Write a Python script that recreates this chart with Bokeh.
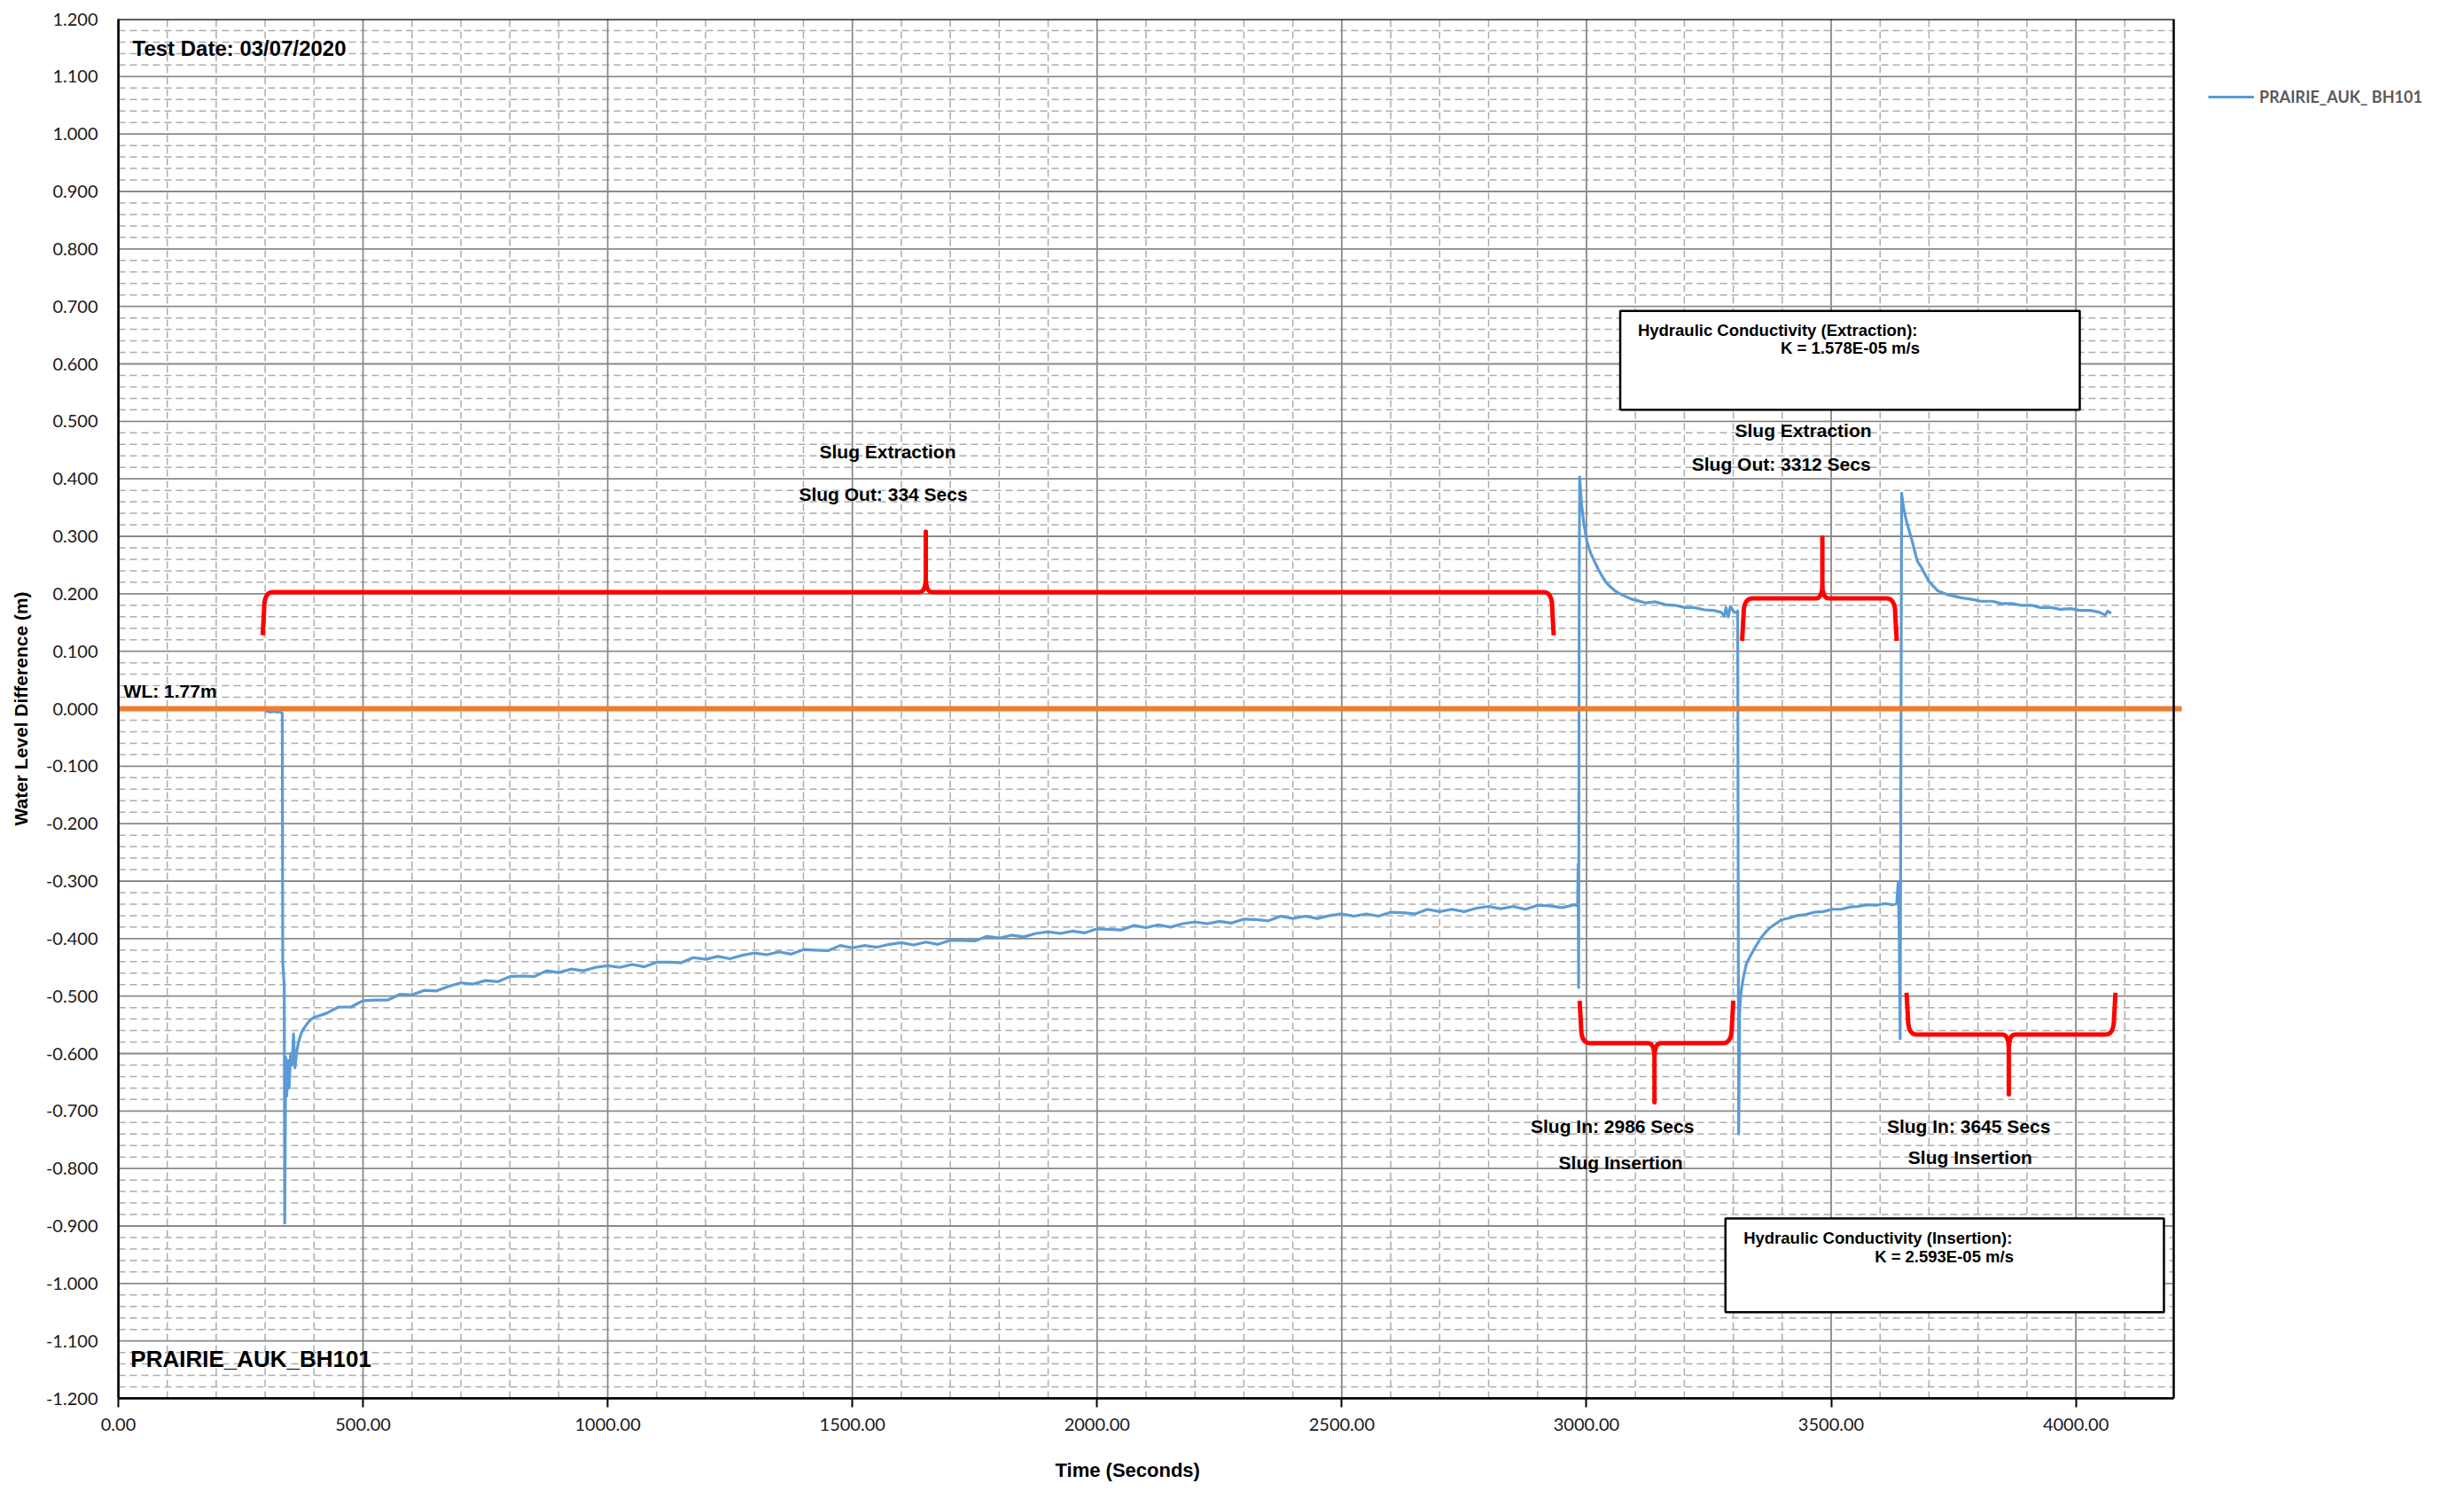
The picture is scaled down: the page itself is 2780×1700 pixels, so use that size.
import numpy as np
from bokeh.plotting import figure
from bokeh.models import (Range1d, FixedTicker, NumeralTickFormatter,
                          Label, Legend, LegendItem, Title)
from bokeh.embed import file_html
from bokeh.resources import INLINE

# ---------------- data ----------------
series_name = "PRAIRIE_AUK_ BH101"

# phase 1: static level, slug out at ~334 s
t1 = [300, 305, 310, 315, 320, 325, 330, 335, 336, 339, 340, 342, 344, 347, 349, 352,
      355, 358, 361, 364, 367, 371, 375, 380, 386, 393]
h1 = [-0.005, -0.004, -0.006, -0.005, -0.005, -0.006, -0.005, -0.008, -0.441, -0.482,
      -0.895, -0.606, -0.674, -0.612, -0.660, -0.600, -0.620, -0.566, -0.625, -0.600,
      -0.585, -0.572, -0.562, -0.555, -0.548, -0.541]

# phase 2: long recovery
t2 = [400, 425, 450, 475, 500, 525, 550, 575, 600, 625, 650, 675, 700, 725, 750, 775,
      800, 825, 850, 875, 900, 925, 950, 975, 1000, 1025, 1050, 1075, 1100, 1125, 1150,
      1175, 1200, 1225, 1250, 1275, 1300, 1325, 1350, 1375, 1400, 1425, 1450, 1475, 1500,
      1525, 1550, 1575, 1600, 1625, 1650, 1675, 1700, 1725, 1750, 1775, 1800, 1825, 1850,
      1875, 1900, 1925, 1950, 1975, 2000, 2025, 2050, 2075, 2100, 2125, 2150, 2175, 2200,
      2225, 2250, 2275, 2300, 2325, 2350, 2375, 2400, 2425, 2450, 2475, 2500, 2525, 2550,
      2575, 2600, 2625, 2650, 2675, 2700, 2725, 2750, 2775, 2800, 2825, 2850, 2875, 2900,
      2925, 2950, 2975]
h2 = [-0.537, -0.530, -0.519, -0.519, -0.508, -0.507, -0.507, -0.497, -0.498, -0.490,
      -0.491, -0.483, -0.477, -0.479, -0.473, -0.475, -0.466, -0.465, -0.466, -0.456,
      -0.459, -0.453, -0.456, -0.450, -0.447, -0.450, -0.445, -0.449, -0.441, -0.441,
      -0.442, -0.433, -0.436, -0.431, -0.435, -0.429, -0.425, -0.428, -0.423, -0.427,
      -0.419, -0.420, -0.421, -0.412, -0.416, -0.412, -0.415, -0.410, -0.407, -0.411,
      -0.406, -0.410, -0.403, -0.403, -0.404, -0.396, -0.399, -0.394, -0.397, -0.391,
      -0.388, -0.391, -0.387, -0.390, -0.383, -0.384, -0.385, -0.377, -0.381, -0.376,
      -0.380, -0.374, -0.371, -0.374, -0.370, -0.373, -0.366, -0.367, -0.369, -0.361,
      -0.365, -0.361, -0.365, -0.360, -0.357, -0.361, -0.357, -0.361, -0.354, -0.355,
      -0.357, -0.349, -0.353, -0.349, -0.353, -0.347, -0.344, -0.348, -0.344, -0.349,
      -0.342, -0.343, -0.346, -0.341]

# phase 3: slug in at ~2986 s and recovery
t3 = [2982, 2983, 2984, 2985, 2986, 2990, 2995, 3001, 3008, 3016, 3024, 3031, 3040, 3049,
      3060, 3073, 3091, 3105, 3121, 3140, 3161, 3180, 3202, 3220, 3242, 3260, 3275, 3282,
      3285, 3290, 3294, 3300, 3306, 3309]
h3 = [-0.343, -0.270, -0.485, 0.140, 0.403, 0.355, 0.320, 0.291, 0.272, 0.257, 0.243,
      0.232, 0.220, 0.212, 0.204, 0.198, 0.191, 0.188, 0.184, 0.186, 0.181, 0.180, 0.176,
      0.176, 0.172, 0.171, 0.168, 0.161, 0.176, 0.160, 0.178, 0.170, 0.167, 0.170]

# phase 4: slug out at ~3312 s and recovery
t4 = [3311, 3313, 3315, 3318, 3322, 3327, 3335, 3342, 3350, 3357, 3366, 3375, 3387, 3399,
      3415, 3430, 3448, 3466, 3484, 3502, 3520, 3538, 3556, 3574, 3592, 3610, 3625, 3634]
h4 = [-0.740, -0.530, -0.500, -0.480, -0.462, -0.443, -0.430, -0.419, -0.408, -0.398,
      -0.389, -0.381, -0.374, -0.367, -0.364, -0.360, -0.358, -0.354, -0.353, -0.349,
      -0.349, -0.345, -0.344, -0.341, -0.342, -0.339, -0.341, -0.339]

# phase 5: slug in at ~3645 s and recovery
t5 = [3637, 3639, 3641, 3644, 3648, 3652, 3656, 3661, 3666, 3676, 3685, 3700, 3718, 3740,
      3766, 3790, 3806, 3830, 3847, 3870, 3887, 3910, 3927, 3950, 3968, 3990, 4008, 4030,
      4048, 4060, 4065, 4072]
h5 = [-0.301, -0.388, -0.574, 0.375, 0.350, 0.333, 0.320, 0.305, 0.290, 0.257, 0.245,
      0.221, 0.205, 0.198, 0.193, 0.190, 0.187, 0.187, 0.183, 0.183, 0.180, 0.180, 0.176,
      0.176, 0.173, 0.174, 0.171, 0.171, 0.168, 0.163, 0.170, 0.166]

time_s = t1 + t2 + t3 + t4 + t5
level_m = h1 + h2 + h3 + h4 + h5

static_level = 0.0          # WL: 1.77 m reference line

# axes
x_min, x_max = 0, 4200
y_min, y_max = -1.2, 1.2
x_major_ticks = [0, 500, 1000, 1500, 2000, 2500, 3000, 3500, 4000]
y_major_ticks = [-1.2, -1.1, -1.0, -0.9, -0.8, -0.7, -0.6, -0.5, -0.4, -0.3, -0.2, -0.1,
                 0.0, 0.1, 0.2, 0.3, 0.4, 0.5, 0.6, 0.7, 0.8, 0.9, 1.0, 1.1, 1.2]

# braces (left end, right end, tip x, end y, bar y, tip y)
brace_left = [298, 3321, 2989, 3657]
brace_right = [2930, 3631, 3297, 4078]
brace_tip_x = [1650, 3482, 3139, 3863]
brace_end_y = [0.128, 0.118, -0.508, -0.494]
brace_bar_y = [0.203, 0.192, -0.582, -0.567]
brace_tip_y = [0.308, 0.298, -0.685, -0.671]

# annotation texts
slug_text = ["Slug Extraction", "Slug Out: 334 Secs", "Slug Extraction",
             "Slug Out: 3312 Secs", "Slug In: 2986 Secs", "Slug Insertion",
             "Slug In: 3645 Secs", "Slug Insertion"]
slug_x = [1572, 1563, 3443, 3398, 3053, 3070, 3781, 3784]
slug_y = [0.447, 0.373, 0.485, 0.425, -0.726, -0.790, -0.726, -0.780]

box_left = [3069, 3284]
box_right = [4008, 4180]
box_top = [0.692, -0.887]
box_bottom = [0.520, -1.050]
box_title = ["Hydraulic Conductivity (Extraction):", "Hydraulic Conductivity (Insertion):"]
box_title_x = [3105, 3321]
box_title_y = [0.659, -0.921]
box_k = ["K = 1.578E-05 m/s", "K = 2.593E-05 m/s"]
box_k_x = [3539, 3731]
box_k_y = [0.628, -0.953]

# ---------------- layout (pixels) ----------------
W, H = 2780, 1700
FRAME_L, FRAME_T, FRAME_B = 133, 21, 123
PLOT_R = 2452                       # right edge of the plotted area
# the frame extends to the page edge so the legend (outside the box) is not clipped
x_view_end = x_max * (W - FRAME_L) / (PLOT_R - FRAME_L)

p = figure(width=W, height=H, output_backend="svg", toolbar_location=None,
           x_range=Range1d(x_min, x_view_end), y_range=Range1d(y_min, y_max),
           min_border_left=FRAME_L, min_border_right=0, min_border_top=FRAME_T,
           min_border_bottom=FRAME_B, background_fill_color="white",
           border_fill_color="white")
p.outline_line_color = None
p.xgrid.visible = False
p.ygrid.visible = False

x_minor = [v for v in range(x_min, x_max + 1, 100) if v % 500 != 0]
y_minor = [round(y_min + 0.02 * i, 2) for i in range(121) if i % 5 != 0]
p.xaxis.ticker = FixedTicker(ticks=x_major_ticks, minor_ticks=x_minor)
p.yaxis.ticker = FixedTicker(ticks=y_major_ticks, minor_ticks=y_minor)
p.xaxis.bounds = (x_min, x_max)
p.xaxis.formatter = NumeralTickFormatter(format="0.00")
p.yaxis.formatter = NumeralTickFormatter(format="0.000")

for ax in (p.xaxis, p.yaxis):
    ax.axis_line_color = "black"
    ax.axis_line_width = 2.5
    ax.minor_tick_in = 0
    ax.minor_tick_out = 0
    ax.major_tick_in = 0
    ax.major_label_text_font = "Lato"
    ax.major_label_text_font_size = "20px"
    ax.major_label_text_color = "#1a1a1a"
    ax.axis_label_text_font = "Liberation Sans"
    ax.axis_label_text_font_style = "bold"
    ax.axis_label_text_color = "black"

p.xaxis.major_tick_out = 10
p.xaxis.major_tick_line_color = "black"
p.xaxis.major_tick_line_width = 2
p.xaxis.major_label_standoff = 12

p.yaxis.major_tick_out = 0
p.yaxis.major_label_standoff = 23
p.yaxis.axis_label = "Water Level Difference (m)"
p.yaxis.axis_label_text_font_size = "21px"
p.yaxis.axis_label_standoff = 14

# x-axis title, placed under the plotted box (as in the original)
p.add_layout(Title(text="Time (Seconds)", align="left", offset=1057,
                   text_font="Liberation Sans", text_font_style="bold",
                   text_font_size="22px", text_color="black", standoff=55), "below")

# grid lines (limited to the plotted box)
GRID_MAJOR = "#8a8a8a"
GRID_MINOR = "#acacac"
p.segment(x0=x_minor, x1=x_minor, y0=[y_min] * len(x_minor), y1=[y_max] * len(x_minor),
          line_color=GRID_MINOR, line_width=1.5, line_dash="8 5")
p.segment(x0=[x_min] * len(y_minor), x1=[x_max] * len(y_minor), y0=y_minor, y1=y_minor,
          line_color=GRID_MINOR, line_width=1.5, line_dash="8 5")
xm_inner = [v for v in x_major_ticks if v != x_min]
p.segment(x0=xm_inner, x1=xm_inner, y0=[y_min] * len(xm_inner), y1=[y_max] * len(xm_inner),
          line_color=GRID_MAJOR, line_width=1.8)
ym_inner = [v for v in y_major_ticks if v not in (y_min, y_max)]
p.segment(x0=[x_min] * len(ym_inner), x1=[x_max] * len(ym_inner), y0=ym_inner, y1=ym_inner,
          line_color=GRID_MAJOR, line_width=1.8)

# hydraulic conductivity boxes
p.quad(left=box_left, right=box_right, top=box_top, bottom=box_bottom,
       fill_color="white", line_color="black", line_width=2.5)


# braces
def qbez(p0, c, p1, n=10):
    t = np.linspace(0, 1, n)
    x = (1 - t) ** 2 * p0[0] + 2 * (1 - t) * t * c[0] + t ** 2 * p1[0]
    y = (1 - t) ** 2 * p0[1] + 2 * (1 - t) * t * c[1] + t ** 2 * p1[1]
    return list(x), list(y)


def brace_path(xl, xr, xm, ye, yb, yt, rx=18.0, ry=0.028, cx=13.0, cy=0.026, ex=3.0):
    s = 1.0 if yt > yb else -1.0
    xs, ys = [xl - ex], [ye]
    bx, by = qbez((xl, yb - s * ry), (xl, yb), (xl + rx, yb))
    xs += bx; ys += by
    bx, by = qbez((xm - cx, yb), (xm, yb), (xm, yb + s * cy))
    xs += bx; ys += by
    xs += [xm]; ys += [yt]
    bx, by = qbez((xm, yb + s * cy), (xm, yb), (xm + cx, yb))
    xs += bx; ys += by
    bx, by = qbez((xr - rx, yb), (xr, yb), (xr, yb - s * ry))
    xs += bx; ys += by
    xs += [xr + ex]; ys += [ye]
    return xs, ys


bxs, bys = [], []
for i in range(len(brace_left)):
    bx, by = brace_path(brace_left[i], brace_right[i], brace_tip_x[i],
                        brace_end_y[i], brace_bar_y[i], brace_tip_y[i])
    bxs.append(bx)
    bys.append(by)
p.multi_line(xs=bxs, ys=bys, line_color="#FF0000", line_width=5,
             line_join="round", line_cap="butt")

# water level series
r = p.line(time_s, level_m, line_color="#5B9BD5", line_width=3.2, line_join="round")

# static water level line (slightly overshoots the right border, as in the original)
wl_overshoot = 9 * (x_view_end - x_min) / (W - FRAME_L)
p.segment(x0=[x_min], x1=[x_max + wl_overshoot], y0=[static_level], y1=[static_level],
          line_color="#ED7D31", line_width=6)

# plot box border
p.quad(left=[x_min], right=[x_max], top=[y_max], bottom=[y_min], fill_alpha=0,
       line_color="black", line_width=2.5)

# legend (outside the plotted box, top right)
legend = Legend(items=[LegendItem(label=series_name, renderers=[r])],
                location=(2491 - FRAME_L, 1457), border_line_color=None,
                background_fill_alpha=0, label_text_font="Lato",
                label_text_font_style="bold", label_text_font_size="18px",
                label_text_color="#595959", glyph_width=52, glyph_height=20,
                label_standoff=6, padding=0, margin=0, spacing=0)
p.add_layout(legend)

# texts
FONT = "Liberation Sans"
p.add_layout(Label(x=29, y=1.149, text="Test Date: 03/07/2020", text_font=FONT,
                   text_font_style="bold", text_font_size="24px",
                   text_align="left", text_baseline="middle", text_color="black"))
p.add_layout(Label(x=25, y=-1.131, text="PRAIRIE_AUK_BH101", text_font=FONT,
                   text_font_style="bold", text_font_size="26px",
                   text_align="left", text_baseline="middle", text_color="black"))
p.add_layout(Label(x=11, y=0.031, text="WL: 1.77m", text_font=FONT,
                   text_font_style="bold", text_font_size="21px",
                   text_align="left", text_baseline="middle", text_color="black"))

for txt, x, y in zip(slug_text, slug_x, slug_y):
    p.add_layout(Label(x=x, y=y, text=txt, text_font=FONT, text_font_style="bold",
                       text_font_size="21px", text_align="center",
                       text_baseline="middle", text_color="black"))

for txt, x, y in zip(box_title, box_title_x, box_title_y):
    p.add_layout(Label(x=x, y=y, text=txt, text_font=FONT, text_font_style="bold",
                       text_font_size="18.5px", text_align="left",
                       text_baseline="middle", text_color="black"))
for txt, x, y in zip(box_k, box_k_x, box_k_y):
    p.add_layout(Label(x=x, y=y, text=txt, text_font=FONT, text_font_style="bold",
                       text_font_size="18.5px", text_align="center",
                       text_baseline="middle", text_color="black"))

open("out.html", "w").write(file_html(p, INLINE))
